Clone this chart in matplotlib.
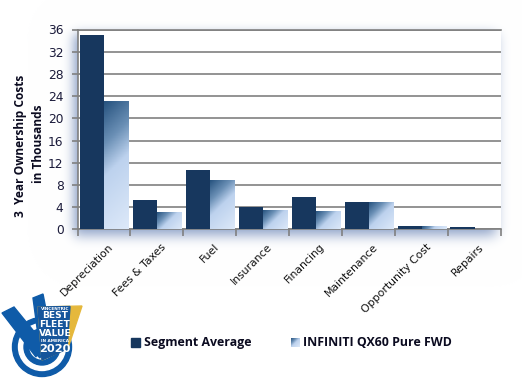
import math
import numpy as np
import matplotlib
matplotlib.use('Agg')
import matplotlib.pyplot as plt
from matplotlib.colors import LinearSegmentedColormap
from matplotlib.patches import Circle, Polygon, Rectangle
from matplotlib.transforms import ScaledTranslation

W, H = 522, 381

# values
categories = ['Depreciation', 'Fees & Taxes', 'Fuel', 'Insurance', 'Financing',
              'Maintenance', 'Opportunity Cost', 'Repairs']
segment_avg = [35.0, 5.3, 10.6, 4.1, 5.9, 5.0, 0.6, 0.5]
infiniti = [23.0, 3.0, 8.8, 3.4, 3.1, 4.7, 0.4, 0.0]
yticks = [0, 4, 8, 12, 16, 20, 24, 28, 32, 36]
series_names = ['Segment Average', 'INFINITI QX60 Pure FWD']

DARK = '#17375e'
GRID = '#808080'
TXT = '#0b0b20'
grad = LinearSegmentedColormap.from_list(
    'bar', [(0, '#27537f'), (0.28, '#6a8fb5'), (0.5, '#bdd2ee'), (1, '#dde9f9')])

fig = plt.figure(figsize=(W / 100, H / 100), dpi=100, facecolor='white')


def place(x0, y0, x1, y1):
    # pixel box -> figure fractions
    return [x0 / W, 1 - y1 / H, (x1 - x0) / W, (y1 - y0) / H]


def diagonal(w, h):
    # top left to bottom right, weighted by the size of the box in pixels
    u, v = np.meshgrid(np.linspace(0, 1, 80), np.linspace(0, 1, 80))
    return (u * w + v * h) / (w + h)


# blurred shadow behind the plot area, shifted down and left
back = fig.add_axes([0, 0, 1, 1], zorder=0)
back.set_xlim(0, W)
back.set_ylim(H, 0)
back.axis('off')
px, py = np.meshgrid(np.arange(W) + 0.5, np.arange(H) + 0.5)
erf = np.vectorize(math.erf)
sx = 0.5 * (erf((px - 74) / 8) - erf((px - 496) / 9))
sy = 0.5 * (erf((py - 34) / 8) - erf((py - 235) / 9))
shadow = np.clip(sx * sy, 0, 1)[..., None]
img = (1 - shadow) * np.array([1, 1, 1]) + shadow * np.array([0.55, 0.63, 0.78])
back.imshow(img, extent=(0, W, H, 0), aspect='auto', interpolation='bilinear')

# main chart
ax = fig.add_axes(place(77.5, 29.5, 501, 229.3), zorder=1)
ax.set_facecolor('white')
x = np.arange(len(categories))
bw = 0.455
ax.bar(x - bw / 2, segment_avg, bw, color=DARK, zorder=3)
bars = ax.bar(x + bw / 2, infiniti, bw, color='none', zorder=3)

for b in bars:
    if b.get_height() <= 0:
        continue
    ax.imshow(diagonal(24, b.get_height() * 199.8 / 36), cmap=grad, vmin=0, vmax=1,
              aspect='auto', zorder=3, origin='upper',
              extent=(b.get_x(), b.get_x() + b.get_width(), 0, b.get_height()))

ax.set_xlim(-0.5, len(categories) - 0.5)
ax.set_ylim(0, 36)
ax.set_yticks(yticks)
ax.set_xticks(np.arange(len(categories) + 1) - 0.5, minor=False)
ax.set_xticklabels([])
ax.set_xticks(x, categories, minor=True, rotation=45, ha='right',
              rotation_mode='anchor', fontsize=7.8, color='#111111')
ax.tick_params(axis='x', which='minor', length=0, pad=9)
ax.tick_params(axis='x', which='major', length=5, width=1.2, color=GRID)
ax.tick_params(axis='y', length=4, width=1.2, color=GRID, labelsize=8.8,
               labelcolor='#1a1a3a', pad=6)
ax.yaxis.grid(True, color=GRID, lw=1.2, zorder=1)
ax.set_axisbelow(True)
for side in ['top', 'bottom', 'left']:
    ax.spines[side].set_color(GRID)
    ax.spines[side].set_linewidth(1.2)
ax.spines['right'].set_visible(False)
nudge = ScaledTranslation(4 / 100, 0, fig.dpi_scale_trans)
for lab in ax.get_xticklabels(minor=True):
    lab.set_transform(lab.get_transform() + nudge)

# overlay in pixel coordinates: labels, legend, logo
top = fig.add_axes([0, 0, 1, 1], zorder=2)
top.patch.set_alpha(0)
top.axis('off')

top.imshow(diagonal(9, 9), cmap=grad, vmin=0, vmax=1, extent=(291, 300, 347, 338),
           aspect='auto', zorder=3)
top.set_xlim(0, W)
top.set_ylim(H, 0)

top.text(21, 146, '3  Year Ownership Costs', rotation=90, ha='center', va='center',
         fontsize=8.6, fontweight='bold', family='Open Sans', color=TXT)
top.text(39, 144, 'in Thousands', rotation=90, ha='center', va='center',
         fontsize=8.6, fontweight='bold', family='Open Sans', color=TXT)

top.add_patch(Rectangle((131, 338), 9, 9, color=DARK))
top.text(144, 342.5, series_names[0], ha='left', va='center', fontsize=8.95,
         fontweight='bold', family='Open Sans', color=TXT)
top.text(303, 342.5, series_names[1], ha='left', va='center', fontsize=8.9,
         fontweight='bold', family='Open Sans', color=TXT)

# badge
BLUE = '#0f5ba8'
cx, cy = 42, 347
for r, c in [(29.5, BLUE), (23.5, 'white'), (18, BLUE), (12, 'white'), (8, BLUE)]:
    top.add_patch(Circle((cx, cy), r, color=c, zorder=4))
top.add_patch(Polygon([(2, 313), (14, 307), (41, 340), (36, 357)], color=BLUE, zorder=5))
top.add_patch(Polygon([(33, 298), (43, 294), (50, 330), (40, 358), (34, 352), (38, 335)],
                      color=BLUE, zorder=5))
top.add_patch(Polygon([(38, 307), (82, 306), (68, 348), (42, 360)], color='#e5b83c', zorder=6))
top.add_patch(Polygon([(38, 307), (70, 306.5), (67, 349), (42, 360)], color='#16559b', zorder=6))
top.text(55, 309, 'VINCENTRIC', ha='center', va='center', fontsize=3.1, fontweight='bold',
         color='white', zorder=7)
top.text(55, 324.5, 'BEST\nFLEET\nVALUE', ha='center', va='center', fontsize=6.6,
         fontweight='bold', color='white', zorder=7, linespacing=1.05)
top.text(55, 340.5, 'IN AMERICA', ha='center', va='center', fontsize=3.1, fontweight='bold',
         color='white', zorder=7)
top.text(55, 349, '2020', ha='center', va='center', fontsize=8.2, fontweight='bold',
         color='white', zorder=7)

fig.savefig('out.png', dpi=100)
